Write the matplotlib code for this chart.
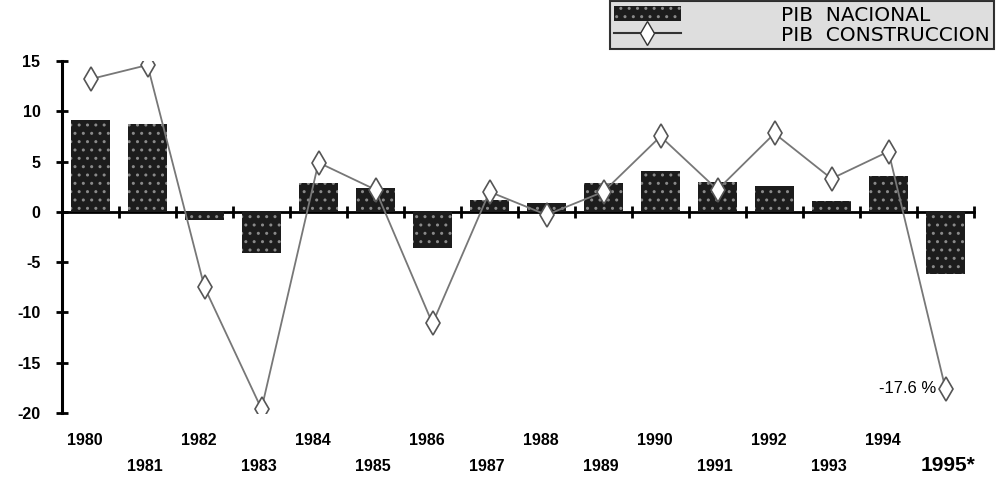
import numpy as np
import matplotlib
matplotlib.use("Agg")
import matplotlib.pyplot as plt
from matplotlib.patches import Patch
from matplotlib.lines import Line2D
import matplotlib.transforms as mtrans

plt.rcParams['font.family'] = ['Liberation Sans', 'DejaVu Sans']
plt.rcParams['hatch.linewidth'] = 1.0

# data (annual % change)
years = ['1980', '1981', '1982', '1983', '1984', '1985', '1986', '1987',
         '1988', '1989', '1990', '1991', '1992', '1993', '1994', '1995*']
pib_nacional = [9.1, 8.7, -0.8, -4.1, 2.9, 2.4, -3.6, 1.2,
                0.9, 2.9, 4.1, 3.0, 2.6, 1.1, 3.6, -6.2]
pib_construccion = [13.2, 14.6, -7.5, -19.6, 4.9, 2.2, -11.1, 2.0,
                    -0.3, 2.0, 7.5, 2.2, 7.8, 3.3, 6.0, -17.6]
yticks = [-20, -15, -10, -5, 0, 5, 10, 15]
note_1995 = '-17.6 %'

x = np.arange(len(years))

fig = plt.figure(figsize=(10, 4.92), dpi=100)
ax = fig.add_axes([0.062, 0.1606, 0.912, 0.7154])

# bars: dark stippled fill
ax.bar(x, pib_nacional, width=0.68, color='#1c1c1c', edgecolor='#8a8a8a',
       linewidth=0, hatch='..', zorder=2)

# construction line with open diamonds
ax.plot(x, pib_construccion, color='#777777', lw=1.3, marker='d',
        markersize=12, markerfacecolor='white', markeredgecolor='#555555',
        markeredgewidth=1.2, zorder=3)

ax.set_xlim(-0.5, len(years) - 0.5)
ax.set_ylim(-20, 15)

# axes: left spine plus a zero line carrying the category ticks
for s in ['top', 'right']:
    ax.spines[s].set_visible(False)
ax.spines['left'].set_linewidth(2.2)
ax.spines['bottom'].set_position(('data', 0))
ax.spines['bottom'].set_linewidth(2.0)
ax.spines['bottom'].set_zorder(1)

ax.set_yticks(yticks)
ax.set_yticklabels([str(v) for v in yticks], fontsize=11.5, fontweight='bold')
ax.tick_params(axis='y', direction='inout', length=9, width=2, pad=11)

ax.set_xticks(np.arange(len(years) + 1) - 0.5)
ax.set_xticklabels([])
ax.tick_params(axis='x', direction='inout', length=8, width=2)

# year labels on two staggered rows below the plot
trans = ax.get_xaxis_transform()
for i, lab in enumerate(years):
    if lab.endswith('*'):
        ax.text(i + 0.05, -0.148, lab, transform=trans, ha='center', va='center',
                fontsize=15, fontweight='bold')
    elif i % 2 == 0:
        ax.text(i - 0.1, -0.077, lab, transform=trans, ha='center', va='center',
                fontsize=11.5, fontweight='bold')
    else:
        ax.text(i - 0.05, -0.153, lab, transform=trans, ha='center', va='center',
                fontsize=11.5, fontweight='bold')

# annotation of 1995 construction value
off = mtrans.offset_copy(ax.transData, fig=fig, x=-9, y=0, units='dots')
ax.text(x[-1], pib_construccion[-1], note_1995, transform=off, ha='right',
        va='center', fontsize=12)

handles = [
    Patch(facecolor='#1c1c1c', edgecolor='#8a8a8a', linewidth=0, hatch='..'),
    Line2D([], [], color='#333333', lw=1.5, marker='d', markersize=12,
           markerfacecolor='white', markeredgecolor='#333333'),
]
leg = fig.legend(handles, ['PIB  NACIONAL', 'PIB  CONSTRUCCION'],
                 loc='upper right', bbox_to_anchor=(0.994, 0.997),
                 prop={'family': 'DejaVu Sans', 'size': 14.5},
                 frameon=True, fancybox=False,
                 handlelength=3.3, handleheight=0.75, borderpad=0.2,
                 labelspacing=0.05, handletextpad=5.0, borderaxespad=0)
leg.get_frame().set_edgecolor('black')
leg.get_frame().set_linewidth(1.5)
leg.get_frame().set_facecolor('#d6d6d6')

fig.savefig('out.png', dpi=100)
